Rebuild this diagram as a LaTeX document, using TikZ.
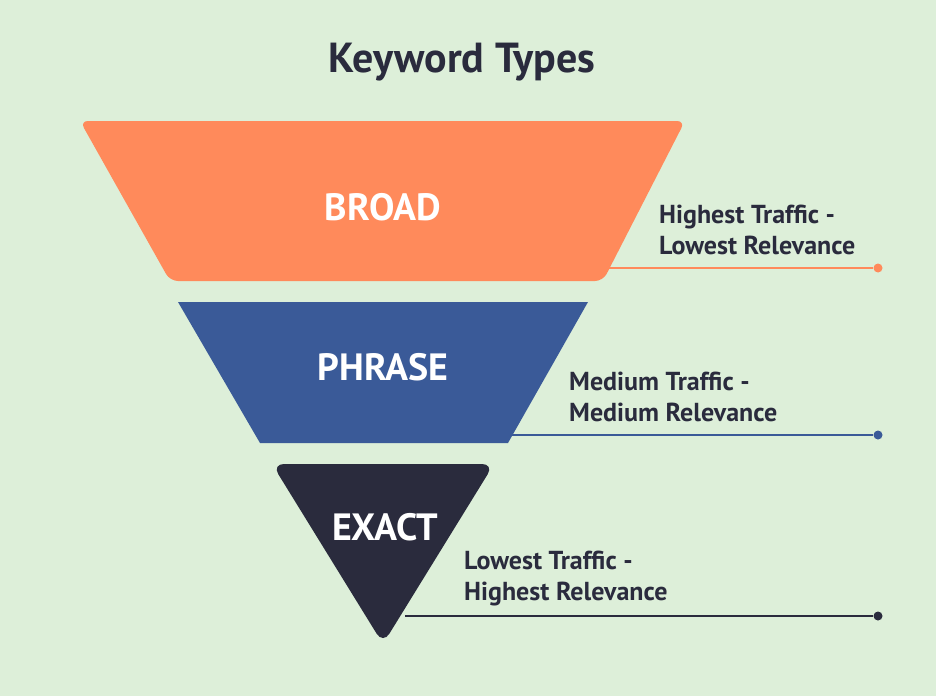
\documentclass[tikz,border=0pt]{standalone}
\usepackage{fontspec}
\setmainfont{PT Sans}
\definecolor{bg}{HTML}{DDEFD9}
\definecolor{org}{HTML}{FF8A5B}
\definecolor{blu}{HTML}{3A5A98}
\definecolor{drk}{HTML}{2A2B3D}
\tikzset{lbl/.style={font=\bfseries\fontsize{26}{31}\selectfont,text=drk,align=left,anchor=west,inner sep=0},
seg/.style={white,font=\bfseries\fontsize{38}{40}\selectfont},
dot/.style={circle,inner sep=0,minimum size=9pt}}
\begin{document}
\begin{tikzpicture}[x=1pt,y=-1pt]
\fill[bg] (0,0) rectangle (936,696);
\useasboundingbox (0,0) rectangle (936,696);
\node[font=\bfseries\fontsize{42}{46}\selectfont,text=drk] (title) at (462,62) {Keyword Types};
\fill[org,rounded corners=8pt] (80,121) -- (685,121) -- (603,281) -- (170,281) -- cycle;
\fill[blu] (178,302) -- (588,302) -- (508,443) -- (260,443) -- cycle;
\fill[drk,rounded corners=12pt] (272,464) -- (494,464) -- (383,644) -- cycle;
\node[seg] (b) at (383,207) {BROAD};
\node[seg] (p) at (383,367) {PHRASE};
\node[seg] (e) at (385,527) {EXACT};
\coordinate (o1) at (603,268); \node[dot,fill=org] (o2) at (878,268) {};
\coordinate (b1) at (508,435); \node[dot,fill=blu] (b2) at (878,435) {};
\coordinate (d1) at (405,616); \node[dot,fill=drk] (d2) at (878,616) {};
\draw[org,line width=2pt] (o1) -- (o2);
\draw[blu,line width=2pt] (b1) -- (b2);
\draw[drk,line width=2pt] (d1) -- (d2);
\node[lbl] (t1) at (659,230) {Highest Traffic -\\Lowest Relevance};
\node[lbl] (t2) at (569,397) {Medium Traffic -\\Medium Relevance};
\node[lbl] (t3) at (464,579) {Lowest Traffic -\\Highest Relevance};
\end{tikzpicture}
\end{document}
